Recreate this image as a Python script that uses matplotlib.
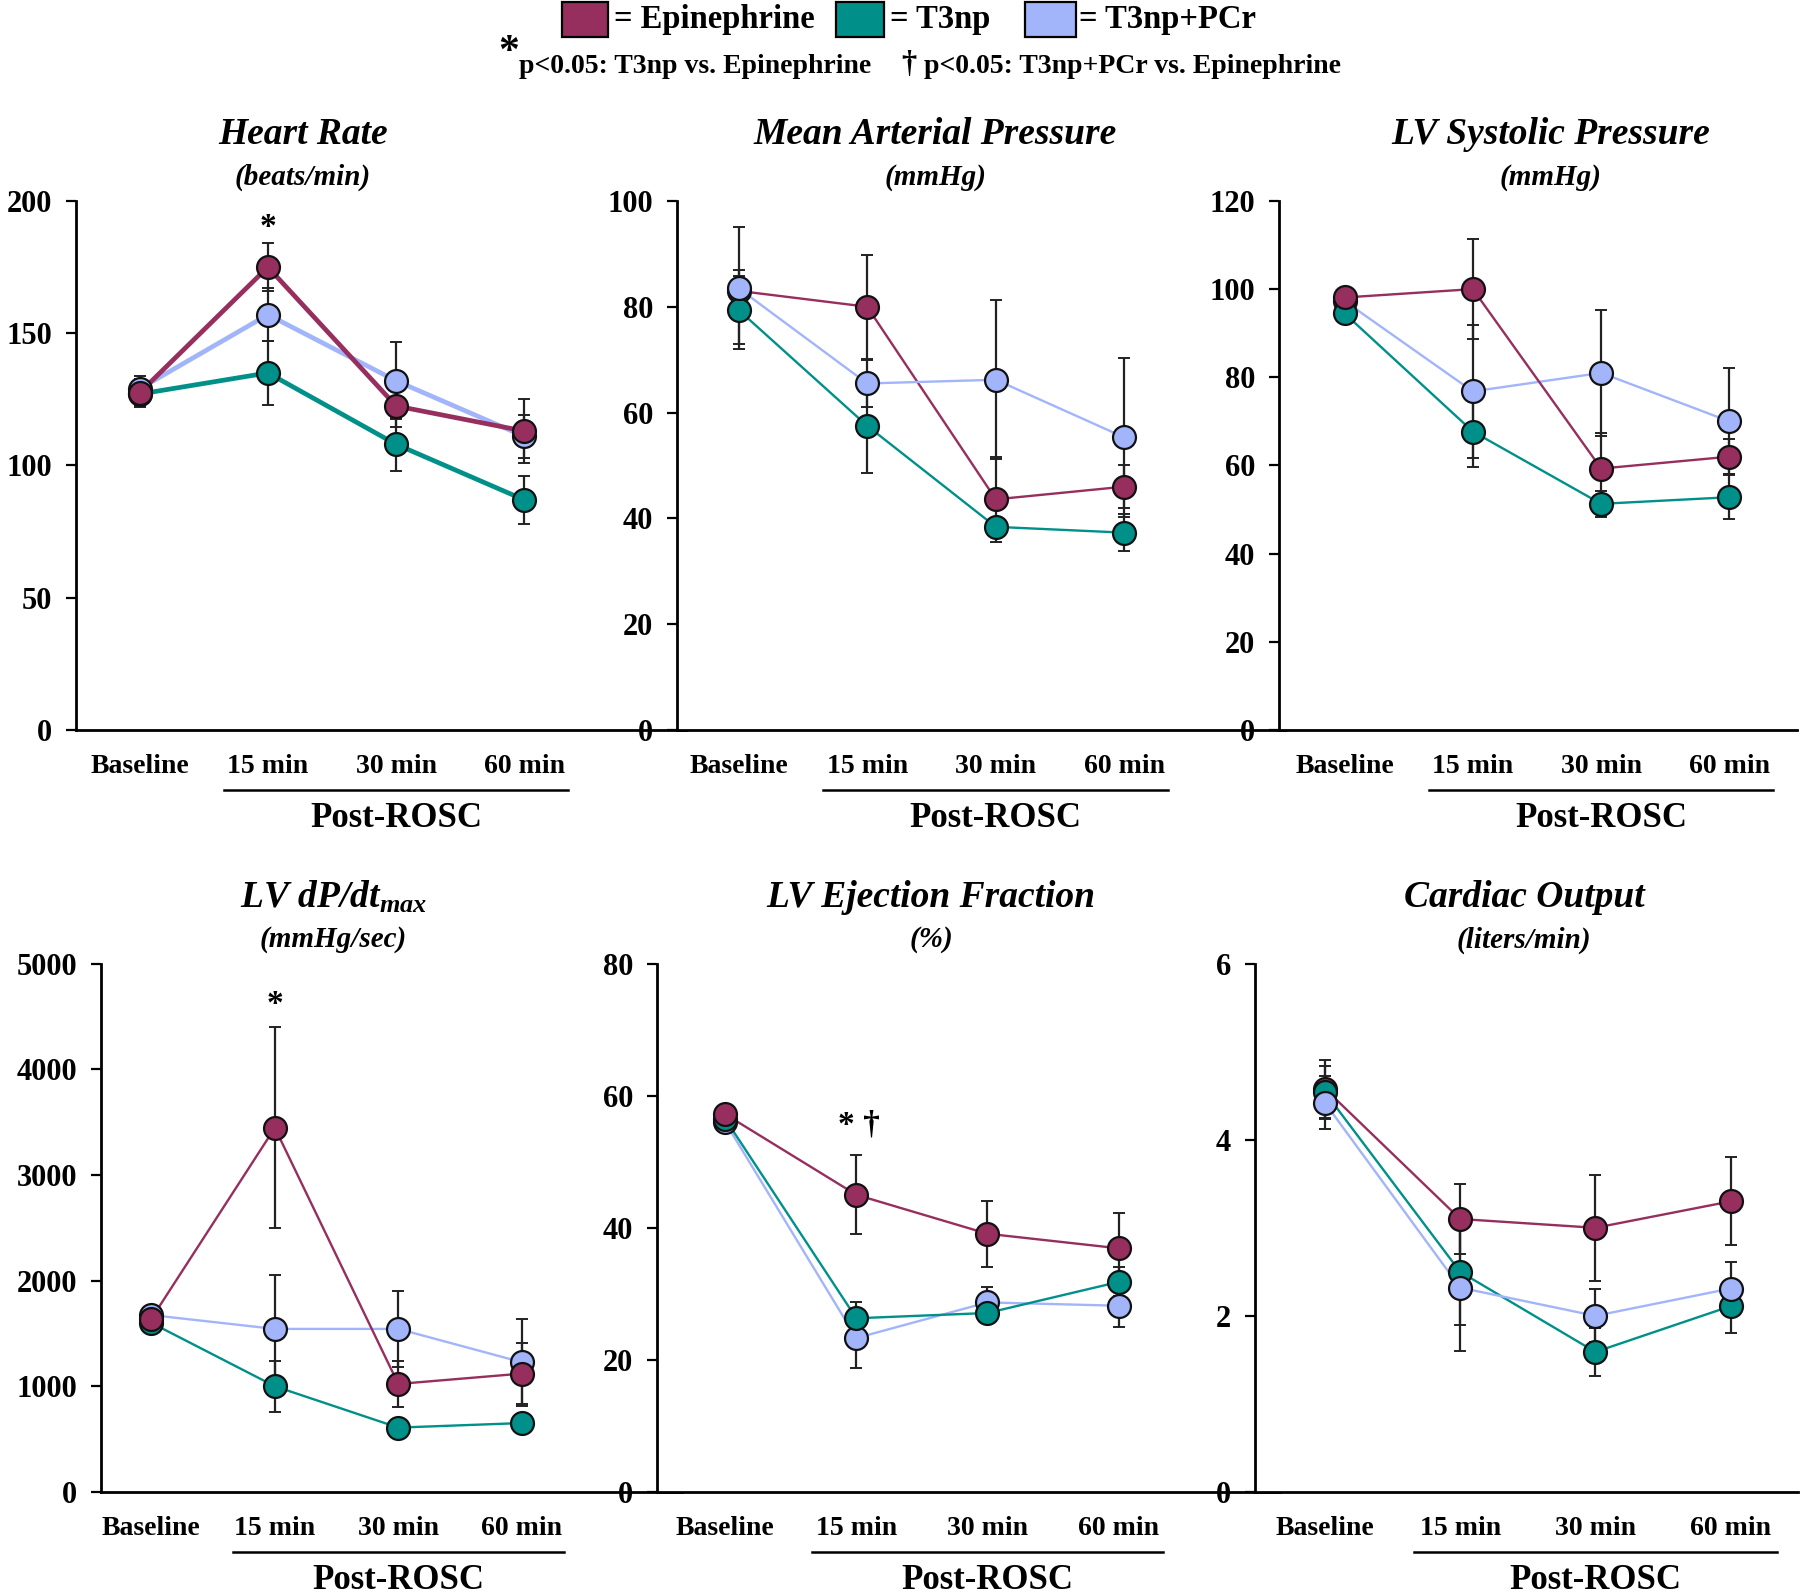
import matplotlib
matplotlib.use("Agg")
import matplotlib.pyplot as plt
from matplotlib.patches import Rectangle
import matplotlib.transforms as mtransforms

plt.rcParams['font.family'] = ['Liberation Serif', 'DejaVu Serif']
plt.rcParams['font.weight'] = 'bold'
plt.rcParams['mathtext.fontset'] = 'custom'
plt.rcParams['mathtext.it'] = 'Liberation Serif:italic:bold'
plt.rcParams['mathtext.rm'] = 'Liberation Serif:bold'

# ---------------- data ----------------
timepoints = ["Baseline", "15 min", "30 min", "60 min"]
groups = ["Epinephrine", "T3np", "T3np+PCr"]
colors = ["#962E5E", "#00908A", "#A3B5FA"]

hr_epi = [127.5, 175, 122.5, 113]
hr_epi_err = [5, 9, 8, 12]
hr_t3 = [127, 135, 108, 87]
hr_t3_err = [5, 12, 10, 9]
hr_pcr = [129, 157, 132, 111]
hr_pcr_err = [5, 10, 14.5, 8]

map_epi = [83, 80, 43.6, 46]
map_epi_err = [4, 9.8, 8, 4]
map_t3 = [79.4, 57.5, 38.4, 37.3]
map_t3_err = [6.5, 9, 1.5, 3.5]
map_pcr = [83.5, 65.5, 66.2, 55.3]
map_pcr_err = [11.5, 4.5, 15, 15]

lvsp_epi = [98.1, 100, 59.3, 62]
lvsp_epi_err = [2, 11.4, 8, 4]
lvsp_t3 = [94.5, 67.7, 51.3, 52.8]
lvsp_t3_err = [2, 8, 3, 5]
lvsp_pcr = [97.3, 76.8, 81, 70]
lvsp_pcr_err = [2, 15, 14.3, 12]

dpdt_epi = [1640, 3446, 1022, 1120]
dpdt_epi_err = [80, 950, 220, 290]
dpdt_t3 = [1600, 1000, 609, 652]
dpdt_t3_err = [60, 240, 50, 40]
dpdt_pcr = [1674, 1543, 1543, 1228]
dpdt_pcr_err = [60, 510, 360, 410]

ef_epi = [57.2, 45, 39.1, 36.9]
ef_epi_err = [1, 6, 5, 5.3]
ef_t3 = [56.5, 26.3, 27.1, 31.8]
ef_t3_err = [1, 2.4, 1, 2.2]
ef_pcr = [56, 23.3, 28.7, 28.2]
ef_pcr_err = [1, 4.5, 2.3, 3.2]

co_epi = [4.58, 3.10, 3.0, 3.3]
co_epi_err = [0.33, 0.4, 0.6, 0.5]
co_t3 = [4.54, 2.5, 1.59, 2.11]
co_t3_err = [0.3, 0.6, 0.27, 0.3]
co_pcr = [4.42, 2.32, 2.0, 2.31]
co_pcr_err = [0.3, 0.72, 0.3, 0.3]

hr_yticks = [0, 50, 100, 150, 200]
map_yticks = [0, 20, 40, 60, 80, 100]
lvsp_yticks = [0, 20, 40, 60, 80, 100, 120]
dpdt_yticks = [0, 1000, 2000, 3000, 4000, 5000]
ef_yticks = [0, 20, 40, 60, 80]
co_yticks = [0, 2, 4, 6]

panels = [
    dict(title="Heart Rate", unit="(beats/min)", series=[(hr_pcr, hr_pcr_err, 2), (hr_t3, hr_t3_err, 1), (hr_epi, hr_epi_err, 0)],
         yticks=hr_yticks, pos=[0.042, 0.5426, 0.339, 0.3315], xlim=(-0.5, 4.26), lw=3.4, tx=0.372,
         sig=[("*", 1, 190)]),
    dict(title="Mean Arterial Pressure", unit="(mmHg)", series=[(map_epi, map_epi_err, 0), (map_t3, map_t3_err, 1), (map_pcr, map_pcr_err, 2)],
         yticks=map_yticks, pos=[0.376, 0.5426, 0.338, 0.3315], xlim=(-0.48, 4.25), lw=1.7, tx=0.425, sig=[]),
    dict(title="LV Systolic Pressure", unit="(mmHg)", series=[(lvsp_pcr, lvsp_pcr_err, 2), (lvsp_t3, lvsp_t3_err, 1), (lvsp_epi, lvsp_epi_err, 0)],
         yticks=lvsp_yticks, pos=[0.7106, 0.5426, 0.288, 0.3315], xlim=(-0.51, 3.53), lw=1.7, tx=0.523, sig=[]),
    dict(title=r"LV dP/dt$_{max}$", unit="(mmHg/sec)", series=[(dpdt_pcr, dpdt_pcr_err, 2), (dpdt_t3, dpdt_t3_err, 1), (dpdt_epi, dpdt_epi_err, 0)],
         yticks=dpdt_yticks, pos=[0.056, 0.0652, 0.323, 0.331], xlim=(-0.41, 4.3), lw=1.7, tx=0.40,
         sig=[("*", 1, 4609)]),
    dict(title="LV Ejection Fraction", unit="(%)", series=[(ef_pcr, ef_pcr_err, 2), (ef_t3, ef_t3_err, 1), (ef_epi, ef_epi_err, 0)],
         yticks=ef_yticks, pos=[0.365, 0.0652, 0.346, 0.331], xlim=(-0.52, 4.23), lw=1.7, tx=0.44,
         sig=[("* \u2020", 1.02, 55.6)]),
    dict(title="Cardiac Output", unit="(liters/min)", series=[(co_epi, co_epi_err, 0), (co_t3, co_t3_err, 1), (co_pcr, co_pcr_err, 2)],
         yticks=co_yticks, pos=[0.697, 0.0652, 0.302, 0.331], xlim=(-0.52, 3.5), lw=1.7, tx=0.496, sig=[]),
]

fig = plt.figure(figsize=(18, 15.96), dpi=100)

x = list(range(len(timepoints)))
for p in panels:
    ax = fig.add_axes(p["pos"])
    for vals, errs, ci in p["series"]:
        ax.errorbar(x, vals, yerr=errs, fmt='none', ecolor='#222222', elinewidth=1.6,
                    capsize=4, capthick=1.4, zorder=2)
    for vals, errs, ci in p["series"]:
        ax.plot(x, vals, '-', color=colors[ci], lw=p["lw"], zorder=3)
    for vals, errs, ci in p["series"]:
        ax.plot(x, vals, 'o', color=colors[ci], markersize=16.5, markeredgecolor='#111111',
                markeredgewidth=1.6, zorder=4, linestyle='none')
    ax.set_xlim(*p["xlim"])
    ax.set_ylim(p["yticks"][0], p["yticks"][-1])
    ax.set_yticks(p["yticks"])
    ax.set_yticklabels([str(t) for t in p["yticks"]], fontsize=22, fontweight='bold')
    ax.set_xticks(x)
    ax.set_xticklabels(timepoints, fontsize=20, fontweight='bold')
    ax.tick_params(axis='y', direction='out', length=7, width=1.6, pad=10)
    ax.tick_params(axis='x', length=0, pad=17)
    for s in ['top', 'right']:
        ax.spines[s].set_visible(False)
    for s in ['left', 'bottom']:
        ax.spines[s].set_linewidth(2)
        ax.spines[s].set_color('black')
    trans = mtransforms.blended_transform_factory(ax.transData, ax.transAxes)
    ax.plot([0.66, 3.34], [-0.114, -0.114], color='black', lw=1.8, transform=trans, clip_on=False)
    ax.text(2, -0.168, "Post-ROSC", transform=trans, ha='center', va='center', fontsize=25, fontweight='bold')
    ax.text(p["tx"], 1.125, p["title"], transform=ax.transAxes, ha='center', va='center',
            fontsize=27, fontweight='bold', style='italic')
    ax.text(p["tx"], 1.045, p["unit"], transform=ax.transAxes, ha='center', va='center',
            fontsize=21, fontweight='bold', style='italic')
    for s, sx, sy in p["sig"]:
        ax.text(sx, sy, s, ha='center', va='center', fontsize=24, fontweight='bold')

# ---------------- legend ----------------
legend_boxes = [(0.3124, 0.0256, 0.341), (0.4644, 0.0267, 0.4943), (0.5696, 0.0283, 0.5995)]
for (bx, bw, tx), c, g in zip(legend_boxes, colors, groups):
    fig.patches.append(Rectangle((bx, 0.9768), bw, 0.0219, transform=fig.transFigure,
                                 facecolor=c, edgecolor='black', lw=1.6))
    fig.text(tx, 0.9878, "= " + g, ha='left', va='center', fontsize=23.5, fontweight='bold')

fig.text(0.2826, 0.9665, "*", ha='center', va='center', fontsize=30, fontweight='bold')
fig.text(0.2883, 0.9583, "p<0.05: T3np vs. Epinephrine", ha='left', va='center', fontsize=20, fontweight='bold')
fig.text(0.505, 0.9595, "\u2020", ha='center', va='center', fontsize=22, fontweight='bold')
fig.text(0.5135, 0.9583, "p<0.05: T3np+PCr vs. Epinephrine", ha='left', va='center', fontsize=20, fontweight='bold')

fig.savefig("out.png", dpi=100)
